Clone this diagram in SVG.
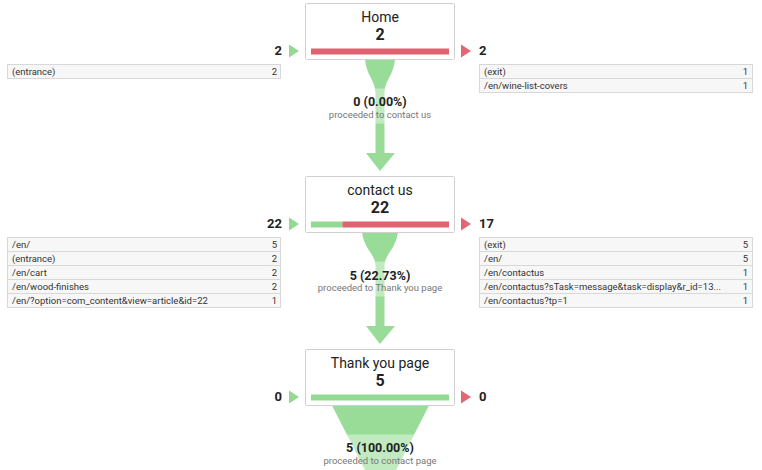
<svg xmlns="http://www.w3.org/2000/svg" width="762" height="470" viewBox="0 0 762 470">
<style>
.box{fill:#fff;stroke:#d0d0d0;stroke-width:1}
.title{font-family:Roboto,"Liberation Sans",sans-serif;font-size:14px;fill:#222;text-anchor:middle}
.num{font-family:Roboto,"Liberation Sans",sans-serif;font-size:16px;font-weight:bold;fill:#222;text-anchor:middle}
.side{font-family:Roboto,"Liberation Sans",sans-serif;font-size:13px;font-weight:bold;fill:#222}
.pct{font-family:Roboto,"Liberation Sans",sans-serif;font-size:12.5px;font-weight:bold;fill:#222;text-anchor:middle}
.sub{font-family:Roboto,"Liberation Sans",sans-serif;font-size:9.5px;fill:#777;text-anchor:middle}
.row{fill:#f7f7f7;stroke:#d8d8d8;stroke-width:1}
.cell{font-family:Roboto,"Liberation Sans",sans-serif;font-size:9.5px;fill:#333}
.cnt{font-family:Roboto,"Liberation Sans",sans-serif;font-size:9.5px;fill:#333;text-anchor:end}
.flow{fill:#98dc98}
.lbg{fill:#fff;fill-opacity:0.4}
.gbar{fill:#93d993}
.rbar{fill:#e06470}
.gtri{fill:#93d993}
.rtri{fill:#e36676}
</style>

<g id="connectors">
  <path class="flow" d="M365,59.5 L395,59.5 C393,77 384.5,80 384.5,94 L384.5,153 L395,153 L380,171 L366,153 L375.5,153 L375.5,94 C375.5,80 367,77 365,59.5 Z"/>
  <rect class="lbg" x="320" y="88.5" width="120" height="35"/>
  <path class="flow" d="M362,232.5 L398,232.5 C395,251 384.5,254 384.5,266 L384.5,326 L395,326 L380,344 L366,326 L375.5,326 L375.5,266 C375.5,254 365,251 362,232.5 Z"/>
  <rect class="lbg" x="310" y="261.5" width="140" height="35"/>
  <path class="flow" d="M332,405.5 L429,405.5 L396,470 L365,470 Z"/>
  <rect class="lbg" x="315" y="434.5" width="130" height="36"/>
</g>

<g id="node-home">
  <rect class="box" x="305.5" y="3.5" width="149" height="56" rx="1"/>
  <text class="title" x="380" y="22">Home</text>
  <text class="num" x="380" y="40">2</text>
  <rect class="rbar" x="311" y="48.5" width="138" height="6"/>
  <text class="side" x="282" y="55" text-anchor="end">2</text>
  <polygon class="gtri" points="289,44.5 299,51 289,57.5"/>
  <polygon class="rtri" points="461,44.5 471,51 461,57.5"/>
  <text class="side" x="479" y="55">2</text>
  <text class="pct" x="380" y="106">0 (0.00%)</text>
  <text class="sub" x="380" y="118">proceeded to contact us</text>
</g>
<g id="table-home-in">
  <rect class="row" x="7.5" y="64.5" width="273" height="14"/>
  <text class="cell" x="12" y="74.5">(entrance)</text><text class="cnt" x="277" y="74.5">2</text>
</g>
<g id="table-home-out">
  <rect class="row" x="479.5" y="64.5" width="273" height="14"/>
  <rect class="row" x="479.5" y="78.5" width="273" height="14"/>
  <text class="cell" x="484" y="74.5">(exit)</text><text class="cnt" x="748" y="74.5">1</text>
  <text class="cell" x="484" y="88.5">/en/wine-list-covers</text><text class="cnt" x="748" y="88.5">1</text>
</g>

<g id="node-contact">
  <rect class="box" x="305.5" y="176.5" width="149" height="56" rx="1"/>
  <text class="title" x="380" y="195">contact us</text>
  <text class="num" x="380" y="213">22</text>
  <rect class="gbar" x="311" y="221.5" width="31.4" height="6"/>
  <rect class="rbar" x="342.4" y="221.5" width="106.6" height="6"/>
  <text class="side" x="282" y="228" text-anchor="end">22</text>
  <polygon class="gtri" points="289,217.5 299,224 289,230.5"/>
  <polygon class="rtri" points="461,217.5 471,224 461,230.5"/>
  <text class="side" x="479" y="228">17</text>
  <text class="pct" x="380" y="279.5">5 (22.73%)</text>
  <text class="sub" x="380" y="291">proceeded to Thank you page</text>
</g>
<g id="table-contact-in">
  <rect class="row" x="7.5" y="237.5" width="273" height="14"/>
  <rect class="row" x="7.5" y="251.5" width="273" height="14"/>
  <rect class="row" x="7.5" y="265.5" width="273" height="14"/>
  <rect class="row" x="7.5" y="279.5" width="273" height="14"/>
  <rect class="row" x="7.5" y="293.5" width="273" height="14"/>
  <text class="cell" x="12" y="247.5">/en/</text><text class="cnt" x="277" y="247.5">5</text>
  <text class="cell" x="12" y="261.5">(entrance)</text><text class="cnt" x="277" y="261.5">2</text>
  <text class="cell" x="12" y="275.5">/en/cart</text><text class="cnt" x="277" y="275.5">2</text>
  <text class="cell" x="12" y="289.5">/en/wood-finishes</text><text class="cnt" x="277" y="289.5">2</text>
  <text class="cell" x="12" y="303.5">/en/?option=com_content&amp;view=article&amp;id=22</text><text class="cnt" x="277" y="303.5">1</text>
</g>
<g id="table-contact-out">
  <rect class="row" x="479.5" y="237.5" width="273" height="14"/>
  <rect class="row" x="479.5" y="251.5" width="273" height="14"/>
  <rect class="row" x="479.5" y="265.5" width="273" height="14"/>
  <rect class="row" x="479.5" y="279.5" width="273" height="14"/>
  <rect class="row" x="479.5" y="293.5" width="273" height="14"/>
  <text class="cell" x="484" y="247.5">(exit)</text><text class="cnt" x="748" y="247.5">5</text>
  <text class="cell" x="484" y="261.5">/en/</text><text class="cnt" x="748" y="261.5">5</text>
  <text class="cell" x="484" y="275.5">/en/contactus</text><text class="cnt" x="748" y="275.5">1</text>
  <text class="cell" x="484" y="289.5">/en/contactus?sTask=message&amp;task=display&amp;r_id=13...</text><text class="cnt" x="748" y="289.5">1</text>
  <text class="cell" x="484" y="303.5">/en/contactus?tp=1</text><text class="cnt" x="748" y="303.5">1</text>
</g>

<g id="node-thankyou">
  <rect class="box" x="305.5" y="349.5" width="149" height="56" rx="1"/>
  <text class="title" x="380" y="368">Thank you page</text>
  <text class="num" x="380" y="386">5</text>
  <rect class="gbar" x="311" y="394.5" width="138" height="6"/>
  <text class="side" x="282" y="401" text-anchor="end">0</text>
  <polygon class="gtri" points="289,390.5 299,397 289,403.5"/>
  <polygon class="rtri" points="461,390.5 471,397 461,403.5"/>
  <text class="side" x="479" y="401">0</text>
  <text class="pct" x="380" y="452">5 (100.00%)</text>
  <text class="sub" x="380" y="464">proceeded to contact page</text>
</g>
</svg>
